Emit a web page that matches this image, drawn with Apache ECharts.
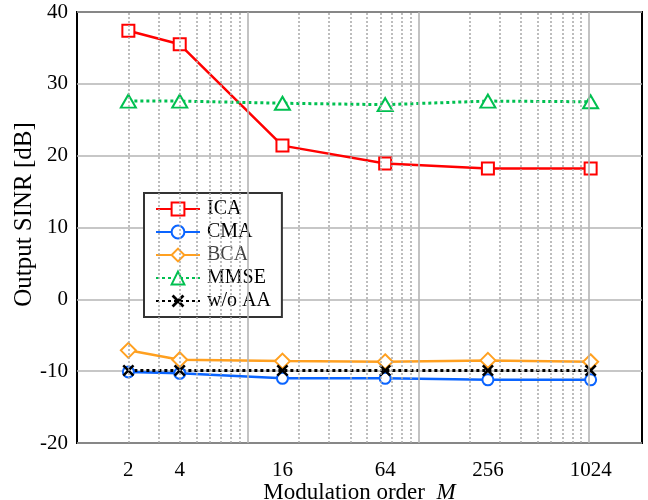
<!DOCTYPE html>
<html>
<head>
<meta charset="utf-8">
<script src="https://cdn.jsdelivr.net/npm/echarts@6/dist/echarts.min.js"></script>
<style>
  html, body { margin: 0; padding: 0; background: #fff; }
  #chart { width: 648px; height: 500px; }
</style>
</head>
<body>
<div id="chart"></div>
<script>
// Modulation orders on the x axis (log scale, base 2)
const orders = [2, 4, 16, 64, 256, 1024];
const xTickLabels = [2, 4, 16, 64, 256, 1024];
const yTicks = [-20, -10, 0, 10, 20, 30, 40];

// Output SINR [dB] per method
const ica  = [37.4, 35.5, 21.4, 18.9, 18.2, 18.2];
const cma  = [-10.1, -10.3, -11.0, -11.0, -11.2, -11.2];
const bca  = [-7.1, -8.4, -8.6, -8.7, -8.5, -8.7];
const mmse = [27.6, 27.6, 27.3, 27.1, 27.6, 27.5];
const noAA = [-9.9, -9.9, -9.9, -9.9, -9.9, -9.9];

// Decade grid lines (solid) and intermediate grid lines (dotted)
const majorGrid = [10, 100, 1000];
const minorGrid = [2, 3, 4, 5, 6, 7, 8, 9, 20, 30, 40, 50, 60, 70, 80, 90,
                   200, 300, 400, 500, 600, 700, 800, 900];

const FONT = "'Liberation Serif', 'Times New Roman', serif";
const pair = vals => orders.map((m, i) => [m, vals[i]]);
const crossPath = 'path://M0,1.5L1.5,0L5,3.5L8.5,0L10,1.5L6.5,5L10,8.5L8.5,10L5,6.5L1.5,10L0,8.5L3.5,5Z';

function lineSeries(name, vals, color, symbol, size, dashed, extra) {
  return Object.assign({
    name: name,
    type: 'line',
    data: pair(vals),
    symbol: symbol,
    symbolSize: size,
    showAllSymbol: true,
    color: color,
    lineStyle: { color: color, width: dashed ? 3 : 2.5, type: dashed ? [3, 3] : 'solid' },
    itemStyle: { color: color, borderWidth: 2.2 },
    emphasis: { disabled: true },
    z: 3
  }, extra || {});
}

const chart = echarts.init(document.getElementById('chart'), null, { renderer: 'canvas' });

chart.setOption({
  animation: false,
  backgroundColor: '#fff',
  textStyle: { fontFamily: FONT },
  grid: {
    left: 77, top: 12, right: 6, bottom: 57,
    outerBoundsMode: 'none',
    show: true, borderColor: '#000', borderWidth: 2, backgroundColor: 'transparent',
    containLabel: false
  },
  xAxis: {
    type: 'log',
    logBase: 2,
    min: 1,
    max: 2048,
    axisLine: { show: false },
    axisTick: { show: false, customValues: xTickLabels },
    splitLine: { show: false },
    axisLabel: {
      customValues: xTickLabels,
      fontSize: 21, color: '#000', fontFamily: FONT, margin: 17,
      formatter: v => String(Math.round(v))
    },
    name: 'Modulation order  {i|M}',
    nameLocation: 'middle',
    nameGap: 38,
    nameMoveOverlap: false,
    nameTextStyle: {
      fontSize: 23, color: '#000', fontFamily: FONT,
      rich: { i: { fontStyle: 'italic', fontSize: 23, fontFamily: FONT, color: '#000' } }
    }
  },
  yAxis: {
    type: 'value',
    min: yTicks[0],
    max: yTicks[yTicks.length - 1],
    interval: 10,
    axisLine: { show: false },
    axisTick: { show: false },
    splitLine: { show: true, lineStyle: { color: '#b4b4b4', width: 1.6 } },
    axisLabel: { fontSize: 21, color: '#000', fontFamily: FONT, margin: 9 },
    name: 'Output SINR [dB]',
    nameLocation: 'middle',
    nameGap: 40,
    nameMoveOverlap: false,
    nameTextStyle: { fontSize: 25, color: '#000', fontFamily: FONT, padding: [0, 0, 0, 26] }
  },
  legend: {
    orient: 'vertical',
    left: 144,
    top: 193,
    padding: [6, 11, 6, 11],
    itemWidth: 44,
    itemHeight: 16,
    itemGap: 3,
    backgroundColor: '#fff',
    borderColor: '#333',
    borderWidth: 2,
    borderRadius: 0,
    textStyle: { fontSize: 20, fontFamily: FONT, color: '#000', lineHeight: 20, padding: [0, 0, 0, 2] },
    data: [
      { name: 'ICA' },
      { name: 'CMA' },
      { name: 'BCA', textStyle: { color: '#444' } },
      { name: 'MMSE' },
      { name: 'w/o AA' }
    ]
  },
  series: [
    {
      name: 'grid',
      type: 'line',
      data: [],
      silent: true,
      z: 1,
      markLine: {
        silent: true,
        symbol: ['none', 'none'],
        label: { show: false },
        animation: false,
        data: minorGrid.map(v => ({ xAxis: v, lineStyle: { color: '#a8a8a8', width: 1.5, type: [2, 2] } }))
          .concat(majorGrid.map(v => ({ xAxis: v, lineStyle: { color: '#b4b4b4', width: 1.6, type: 'solid' } })))
      }
    },
    lineSeries('ICA', ica, '#ff0000', 'emptyRect', 12, false),
    lineSeries('CMA', cma, '#0a64ff', 'emptyCircle', 11, false),
    lineSeries('BCA', bca, '#ffa020', 'emptyDiamond', [15, 15], false),
    lineSeries('MMSE', mmse, '#00c050', 'emptyTriangle', [15, 13], true),
    lineSeries('w/o AA', noAA, '#000000', crossPath, 12, true, {
      itemStyle: { color: '#000', borderWidth: 0 }
    })
  ]
});
</script>
</body>
</html>
